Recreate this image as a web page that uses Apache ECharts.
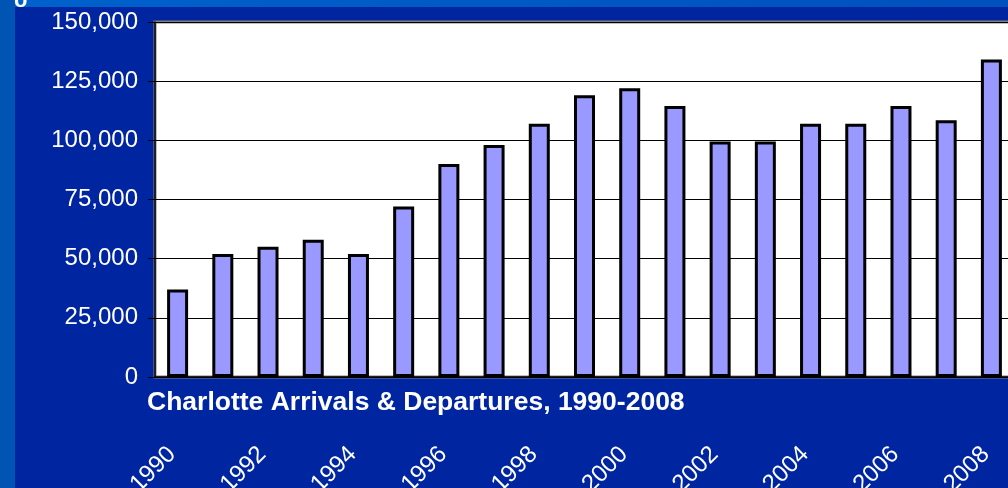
<!DOCTYPE html>
<html>
<head>
<meta charset="utf-8">
<script src="https://cdn.jsdelivr.net/npm/echarts@6/dist/echarts.min.js"></script>
<style>
  html, body { margin: 0; padding: 0; background: #0025A0; }
  #chart { width: 1008px; height: 488px; }
</style>
</head>
<body>
<div id="chart"></div>
<script>
const years = ['1990','1991','1992','1993','1994','1995','1996','1997','1998','1999',
               '2000','2001','2002','2003','2004','2005','2006','2007','2008'];
const movements = [37000, 52000, 55000, 58000, 52000, 72000, 90000, 98000, 107000, 119000,
                   122000, 114500, 99500, 99500, 107000, 107000, 114500, 108500, 134200];
const yTicks = { min: 0, max: 150000, interval: 25000 };
const chartTitle = 'Charlotte Arrivals & Departures, 1990-2008';

const chart = echarts.init(document.getElementById('chart'), null, { renderer: 'canvas' });
chart.setOption({
  backgroundColor: '#0025A0',
  animation: false,
  graphic: [
    { type: 'rect', z: -10, shape: { x: 0, y: 0, width: 1008, height: 7 },
      style: { fill: new echarts.graphic.LinearGradient(0, 0, 1, 0, [
        { offset: 0, color: '#0062CC' }, { offset: 1, color: '#0050BE' }]) } },
    { type: 'rect', z: -9, shape: { x: 0, y: 0, width: 15, height: 488 },
      style: { fill: '#0054B4' } },
    { type: 'text', z: -8, left: 14, top: -10,
      style: { text: 'o', fill: '#ffffff', font: 'bold 22px "Liberation Sans", Arial, sans-serif' } },
    { type: 'text', left: 147, top: 389,
      style: { text: chartTitle, fill: '#ffffff', font: 'bold 26.5px "Liberation Sans", Arial, sans-serif' } }
  ],
  grid: {
    left: 155, top: 22, width: 859, height: 355,
    show: true, backgroundColor: '#ffffff', borderColor: '#808080', borderWidth: 3,
    containLabel: false, outerBoundsMode: 'none'
  },
  xAxis: {
    type: 'category',
    data: years,
    axisLine: { show: true, lineStyle: { color: '#000000', width: 1.5 } },
    axisTick: { show: false },
    axisLabel: {
      interval: 1, rotate: 45, margin: 68, color: '#ffffff',
      padding: [0, 8, 0, 0],
      fontSize: 24, fontFamily: '"Liberation Sans", Arial, sans-serif'
    },
    splitLine: { show: false }
  },
  yAxis: {
    type: 'value',
    min: yTicks.min, max: yTicks.max, interval: yTicks.interval,
    axisLine: { show: true, lineStyle: { color: '#000000', width: 1.5 } },
    axisTick: { show: true, inside: false, length: 7, lineStyle: { color: '#000000' } },
    axisLabel: {
      margin: 17, color: '#ffffff', fontSize: 24,
      fontFamily: '"Liberation Sans", Arial, sans-serif',
      formatter: v => v.toLocaleString('en-US')
    },
    splitLine: { show: true, lineStyle: { color: '#000000', width: 1 } }
  },
  series: [{
    type: 'bar',
    data: movements,
    barWidth: 21,
    itemStyle: { color: '#9999FF', borderColor: '#000000', borderWidth: 3 }
  }]
});
</script>
</body>
</html>
